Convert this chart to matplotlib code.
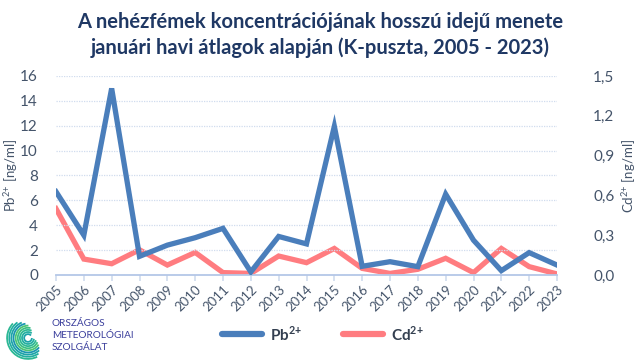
import matplotlib
matplotlib.use("Agg")
import matplotlib.pyplot as plt
import numpy as np
from matplotlib.patches import Arc

plt.rcParams['font.family'] = ['Lato', 'DejaVu Sans']
plt.rcParams['mathtext.fontset'] = 'custom'
plt.rcParams['mathtext.rm'] = 'Lato'
plt.rcParams['mathtext.bf'] = 'Lato:bold'

years = list(range(2005, 2024))
pb = [6.7, 3.2, 15.0, 1.5, 2.4, 3.0, 3.75, 0.25, 3.1, 2.5, 11.95, 0.7, 1.07, 0.67, 6.5, 2.8, 0.35, 1.8, 0.8]
cd = [0.50, 0.12, 0.085, 0.19, 0.075, 0.17, 0.018, 0.012, 0.143, 0.093, 0.20, 0.05, 0.012, 0.043, 0.126, 0.018, 0.20, 0.063, 0.008]
left_ticks = [0, 2, 4, 6, 8, 10, 12, 14, 16]
right_ticks = [0.0, 0.3, 0.6, 0.9, 1.2, 1.5]
right_labels = ["0,0", "0,3", "0,6", "0,9", "1,2", "1,5"]

TXT = '#44546A'
BLUE = '#4A7EBB'
RED = '#FF7C80'
GRID = '#D0DCEE'

fig = plt.figure(figsize=(6.4, 3.6), dpi=100)
L, R, B, T = 56, 557, 275, 76
ax = fig.add_axes([L/640, 1-B/360, (R-L)/640, (B-T)/360])
x = np.arange(len(years))
ax.plot(x, pb, color=BLUE, lw=3.8, solid_joinstyle='miter', zorder=3)
ax.set_xlim(0, len(years)-1)
ax.set_ylim(0, 16)
ax.set_yticks(left_ticks)
ax.set_yticklabels([str(t) for t in left_ticks])
ax.set_xticks(x)
ax.set_xticklabels([str(y) for y in years], rotation=45, ha='right', rotation_mode='anchor')
ax.tick_params(axis='x', colors=GRID, length=4, width=1.2, labelcolor=TXT, labelsize=9.5, pad=2)
ax.tick_params(axis='y', length=0, labelcolor=TXT, labelsize=11, pad=13)
ax.grid(axis='y', color=GRID, linestyle=(0, (1, 1)), lw=0.9)
for s in ['top', 'left', 'right']:
    ax.spines[s].set_visible(False)
ax.spines['bottom'].set_color('#B4C7E7')
ax.spines['bottom'].set_linewidth(1.3)
ax.set_ylabel(r'Pb$^{2{+}}$ [ng/ml]', color=TXT, fontsize=9.5, va='center')
ax.yaxis.set_label_coords((11-L)/(R-L), 0.5)

ax2 = ax.twinx()
ax2.plot(x, cd, color=RED, lw=3.8, solid_joinstyle='miter', zorder=2)
ax2.set_ylim(0, 1.5)
ax2.set_yticks(right_ticks)
ax2.set_yticklabels(right_labels)
ax2.tick_params(axis='y', length=0, labelcolor=TXT, labelsize=11, pad=26)
for s in ['top', 'left', 'right', 'bottom']:
    ax2.spines[s].set_visible(False)
ax2.set_ylabel(r'Cd$^{2{+}}$ [ng/ml]', color=TXT, fontsize=9.5, rotation=90, va='center')
ax2.yaxis.set_label_coords((629-L)/(R-L), 0.5)
ax.set_zorder(ax2.get_zorder()+1)
ax.patch.set_visible(False)

fig.text(0.5, 1-22/360, 'A nehézfémek koncentrációjának hosszú idejű menete',
         ha='center', va='center', fontsize=14.5, fontweight='bold', color='#1F3864')
fig.text(0.5, 1-48/360, 'januári havi átlagok alapján (K-puszta, 2005 - 2023)',
         ha='center', va='center', fontsize=14.5, fontweight='bold', color='#1F3864')

# legend
fig.lines.append(plt.Line2D([222/640, 262/640], [1-334/360]*2, transform=fig.transFigure, color=BLUE, lw=4.5, solid_capstyle='round'))
fig.text(270/640, 1-334/360, r'$\mathbf{Pb}^{\mathbf{2{+}}}$', ha='left', va='center', fontsize=11, color='#333F50')
fig.lines.append(plt.Line2D([343/640, 383/640], [1-334/360]*2, transform=fig.transFigure, color=RED, lw=4.5, solid_capstyle='round'))
fig.text(391/640, 1-334/360, r'$\mathbf{Cd}^{\mathbf{2{+}}}$', ha='left', va='center', fontsize=11, color='#333F50')

# logo
lax = fig.add_axes([6/640, 1-360/360, 44/640, 44/360])
lax.set_xlim(-1, 1); lax.set_ylim(-1, 1); lax.set_aspect('equal'); lax.axis('off')
cols = ['#1CA3A8', '#22AFA0', '#2DB894', '#3BBF84', '#4CC573', '#1A96B0']
for i, r in enumerate(np.linspace(0.35, 1.9, 9)):
    c = cols[i % len(cols)]
    lax.add_patch(Arc((0, 0), r, r, theta1=40 + i*12, theta2=360 - i*8, color=c, lw=1.3))
for i, t in enumerate(['ORSZÁGOS', 'METEOROLÓGIAI', 'SZOLGÁLAT']):
    fig.text(52/640, 1-(324+i*12)/360, t, ha='left', va='center', fontsize=7.2, color='#3B3F9C')

fig.savefig('out.png', dpi=100)
